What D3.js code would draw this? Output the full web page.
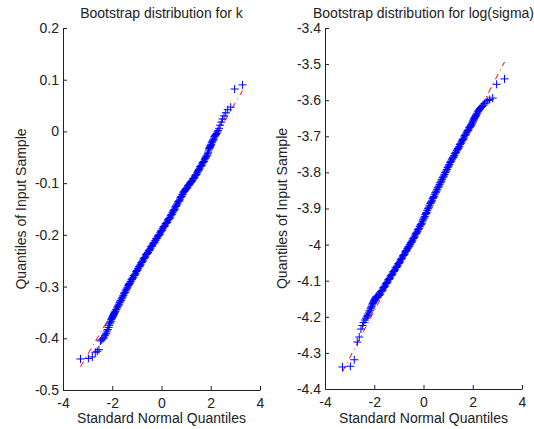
<!DOCTYPE html>
<html>
<head>
<meta charset="utf-8">
<script src="https://cdn.jsdelivr.net/npm/d3@7"></script>
<style>
  html, body { margin: 0; padding: 0; background: #ffffff; }
  svg { display: block; }
  text { font-family: "Liberation Sans", Arial, Helvetica, sans-serif; fill: #222; }
</style>
</head>
<body>
<script>
// Normal Q-Q plots of two bootstrap samples: [standard normal quantile, sample quantile]

const titles = ["Bootstrap distribution for k", "Bootstrap distribution for log(sigma)"];
const xLabel = "Standard Normal Quantiles";
const yLabel = "Quantiles of Input Sample";

const xTicks = [-4, -2, 0, 2, 4];
const kTicks = [0.2, 0.1, 0, -0.1, -0.2, -0.3, -0.4, -0.5];
const sigmaTicks = [-3.4, -3.5, -3.6, -3.7, -3.8, -3.9, -4, -4.1, -4.2, -4.3, -4.4];

// k: lower tail, body, upper tail
const kLower = [[-3.29,-0.440],[-2.97,-0.439],[-2.81,-0.436],[-2.69,-0.427],[-2.61,-0.425],[-2.54,-0.422],
  [-2.48,-0.405],[-2.43,-0.403],[-2.38,-0.401],[-2.34,-0.399],[-2.30,-0.395],[-2.27,-0.392],[-2.24,-0.390],
  [-2.21,-0.386],[-2.18,-0.383],[-2.15,-0.379],[-2.13,-0.375],[-2.11,-0.372],[-2.08,-0.369],[-2.06,-0.367],
  [-2.04,-0.364],[-2.02,-0.362],[-2.00,-0.360],[-1.98,-0.358],[-1.96,-0.356],[-1.94,-0.354],[-1.92,-0.352],[-1.90,-0.350]];
const kBody = [[-1.875,-0.348],[-1.85,-0.345],[-1.825,-0.344],[-1.80,-0.341],[-1.775,-0.338],[-1.75,-0.336],
  [-1.725,-0.334],[-1.70,-0.331],[-1.675,-0.328],[-1.65,-0.327],[-1.625,-0.324],[-1.60,-0.322],[-1.575,-0.320],
  [-1.55,-0.317],[-1.525,-0.314],[-1.50,-0.312],[-1.475,-0.311],[-1.45,-0.308],[-1.425,-0.305],[-1.40,-0.303],
  [-1.375,-0.301],[-1.35,-0.298],[-1.325,-0.296],[-1.30,-0.294],[-1.275,-0.293],[-1.25,-0.290],[-1.225,-0.287],
  [-1.20,-0.286],[-1.175,-0.284],[-1.15,-0.282],[-1.125,-0.279],[-1.10,-0.278],[-1.075,-0.277],[-1.05,-0.274],
  [-1.025,-0.271],[-1.00,-0.269],[-0.975,-0.268],[-0.95,-0.265],[-0.925,-0.262],[-0.90,-0.261],[-0.875,-0.260],
  [-0.85,-0.257],[-0.825,-0.254],[-0.80,-0.253],[-0.775,-0.252],[-0.75,-0.249],[-0.725,-0.246],[-0.70,-0.245],
  [-0.675,-0.244],[-0.65,-0.241],[-0.625,-0.238],[-0.60,-0.237],[-0.575,-0.236],[-0.55,-0.234],[-0.525,-0.231],
  [-0.50,-0.230],[-0.475,-0.229],[-0.45,-0.226],[-0.425,-0.223],[-0.40,-0.222],[-0.375,-0.221],[-0.35,-0.218],
  [-0.325,-0.216],[-0.30,-0.215],[-0.275,-0.214],[-0.25,-0.211],[-0.225,-0.208],[-0.20,-0.207],[-0.175,-0.206],
  [-0.15,-0.203],[-0.125,-0.201],[-0.10,-0.200],[-0.075,-0.199],[-0.05,-0.196],[-0.025,-0.193],[0.00,-0.192],
  [0.025,-0.191],[0.05,-0.188],[0.075,-0.185],[0.10,-0.184],[0.125,-0.183],[0.15,-0.181],[0.175,-0.178],
  [0.20,-0.177],[0.225,-0.176],[0.25,-0.173],[0.275,-0.170],[0.30,-0.169],[0.325,-0.168],[0.35,-0.166],
  [0.375,-0.163],[0.40,-0.161],[0.425,-0.160],[0.45,-0.157],[0.475,-0.154],[0.50,-0.153],[0.525,-0.151],
  [0.55,-0.148],[0.575,-0.145],[0.60,-0.144],[0.625,-0.142],[0.65,-0.139],[0.675,-0.136],[0.70,-0.135],
  [0.725,-0.134],[0.75,-0.131],[0.775,-0.128],[0.80,-0.126],[0.825,-0.125],[0.85,-0.122],[0.875,-0.119],
  [0.90,-0.117],[0.925,-0.116],[0.95,-0.114],[0.975,-0.112],[1.00,-0.111],[1.025,-0.110],[1.05,-0.108],
  [1.075,-0.105],[1.10,-0.104],[1.125,-0.103],[1.15,-0.101],[1.175,-0.099],[1.20,-0.098],[1.225,-0.097],
  [1.25,-0.095],[1.275,-0.092],[1.30,-0.091],[1.325,-0.090],[1.35,-0.088],[1.375,-0.085],[1.40,-0.084],
  [1.425,-0.083],[1.45,-0.080],[1.475,-0.077],[1.50,-0.075],[1.525,-0.074],[1.55,-0.071],[1.575,-0.068],
  [1.60,-0.067],[1.625,-0.066],[1.65,-0.063],[1.675,-0.060],[1.70,-0.059],[1.725,-0.058],[1.75,-0.055],
  [1.775,-0.052],[1.80,-0.050],[1.825,-0.048]];
const kUpper = [[1.86,-0.046],[1.88,-0.043],[1.90,-0.040],[1.92,-0.036],[1.94,-0.033],[1.96,-0.031],[1.98,-0.029],
  [2.00,-0.027],[2.02,-0.025],[2.04,-0.022],[2.06,-0.020],[2.08,-0.018],[2.11,-0.016],[2.13,-0.013],[2.15,-0.010],
  [2.18,-0.008],[2.21,-0.006],[2.24,-0.004],[2.27,-0.001],[2.30,0.002],[2.34,0.006],[2.38,0.012],[2.43,0.018],
  [2.48,0.024],[2.54,0.030],[2.61,0.036],[2.69,0.042],[2.81,0.047],[2.97,0.082],[3.29,0.090]];
const kFit = [[-3.29,-0.455],[3.29,0.079]];

// log(sigma): lower tail, body, upper tail
const sigmaLower = [[-3.29,-4.339],[-2.97,-4.337],[-2.81,-4.319],[-2.69,-4.270],[-2.61,-4.256],[-2.54,-4.234],
  [-2.48,-4.224],[-2.43,-4.216],[-2.38,-4.209],[-2.34,-4.204],[-2.30,-4.200],[-2.27,-4.196],[-2.24,-4.192],
  [-2.21,-4.187],[-2.18,-4.183],[-2.15,-4.178],[-2.13,-4.175],[-2.11,-4.171],[-2.08,-4.167],[-2.06,-4.163],
  [-2.04,-4.160],[-2.02,-4.157],[-2.00,-4.155],[-1.98,-4.152],[-1.96,-4.150],[-1.94,-4.147],[-1.92,-4.145],[-1.90,-4.143]];
const sigmaBody = [[-1.875,-4.147],[-1.85,-4.145],[-1.825,-4.141],[-1.80,-4.140],[-1.775,-4.138],[-1.75,-4.134],
  [-1.725,-4.130],[-1.70,-4.129],[-1.675,-4.127],[-1.65,-4.123],[-1.625,-4.119],[-1.60,-4.118],[-1.575,-4.116],
  [-1.55,-4.112],[-1.525,-4.108],[-1.50,-4.107],[-1.475,-4.105],[-1.45,-4.101],[-1.425,-4.097],[-1.40,-4.096],
  [-1.375,-4.094],[-1.35,-4.090],[-1.325,-4.086],[-1.30,-4.085],[-1.275,-4.083],[-1.25,-4.079],[-1.225,-4.075],
  [-1.20,-4.074],[-1.175,-4.072],[-1.15,-4.068],[-1.125,-4.064],[-1.10,-4.063],[-1.075,-4.061],[-1.05,-4.057],
  [-1.025,-4.053],[-1.00,-4.052],[-0.975,-4.050],[-0.95,-4.046],[-0.925,-4.042],[-0.90,-4.040],[-0.875,-4.038],
  [-0.85,-4.034],[-0.825,-4.030],[-0.80,-4.029],[-0.775,-4.027],[-0.75,-4.023],[-0.725,-4.019],[-0.70,-4.017],
  [-0.675,-4.015],[-0.65,-4.011],[-0.625,-4.007],[-0.60,-4.006],[-0.575,-4.004],[-0.55,-4.000],[-0.525,-3.996],
  [-0.50,-3.994],[-0.475,-3.992],[-0.45,-3.988],[-0.425,-3.984],[-0.40,-3.982],[-0.375,-3.980],[-0.35,-3.976],
  [-0.325,-3.971],[-0.30,-3.969],[-0.275,-3.967],[-0.25,-3.963],[-0.225,-3.959],[-0.20,-3.957],[-0.175,-3.955],
  [-0.15,-3.950],[-0.125,-3.946],[-0.10,-3.944],[-0.075,-3.942],[-0.05,-3.937],[-0.025,-3.932],[0.00,-3.929],
  [0.025,-3.926],[0.05,-3.922],[0.075,-3.917],[0.10,-3.914],[0.125,-3.911],[0.15,-3.906],[0.175,-3.901],
  [0.20,-3.899],[0.225,-3.896],[0.25,-3.891],[0.275,-3.886],[0.30,-3.884],[0.325,-3.881],[0.35,-3.877],
  [0.375,-3.872],[0.40,-3.870],[0.425,-3.867],[0.45,-3.862],[0.475,-3.857],[0.50,-3.855],[0.525,-3.852],
  [0.55,-3.848],[0.575,-3.843],[0.60,-3.841],[0.625,-3.838],[0.65,-3.834],[0.675,-3.829],[0.70,-3.827],
  [0.725,-3.824],[0.75,-3.820],[0.775,-3.815],[0.80,-3.813],[0.825,-3.810],[0.85,-3.806],[0.875,-3.801],
  [0.90,-3.799],[0.925,-3.796],[0.95,-3.792],[0.975,-3.787],[1.00,-3.785],[1.025,-3.782],[1.05,-3.778],
  [1.075,-3.773],[1.10,-3.771],[1.125,-3.769],[1.15,-3.765],[1.175,-3.761],[1.20,-3.759],[1.225,-3.757],
  [1.25,-3.753],[1.275,-3.748],[1.30,-3.746],[1.325,-3.744],[1.35,-3.740],[1.375,-3.736],[1.40,-3.734],
  [1.425,-3.732],[1.45,-3.728],[1.475,-3.723],[1.50,-3.721],[1.525,-3.719],[1.55,-3.715],[1.575,-3.711],
  [1.60,-3.709],[1.625,-3.707],[1.65,-3.702],[1.675,-3.698],[1.70,-3.696],[1.725,-3.694],[1.75,-3.690],
  [1.775,-3.686],[1.80,-3.684],[1.825,-3.682],[1.85,-3.677],[1.875,-3.675]];
const sigmaUpper = [[1.90,-3.673],[1.92,-3.671],[1.94,-3.668],[1.96,-3.666],[1.98,-3.663],[2.00,-3.660],
  [2.02,-3.657],[2.04,-3.654],[2.06,-3.651],[2.08,-3.648],[2.11,-3.645],[2.13,-3.642],[2.15,-3.639],
  [2.18,-3.636],[2.21,-3.632],[2.24,-3.629],[2.27,-3.626],[2.30,-3.623],[2.34,-3.620],[2.38,-3.617],
  [2.43,-3.614],[2.48,-3.609],[2.54,-3.605],[2.61,-3.601],[2.69,-3.598],[2.81,-3.594],[2.97,-3.556],[3.29,-3.541]];
const sigmaFit = [[-3.29,-4.352],[3.29,-3.494]];

const width = 534, height = 429;
const svg = d3.select("body").append("svg").attr("width", width).attr("height", height);

const panels = [
  { title: titles[0], points: kLower.concat(kBody, kUpper), fit: kFit, yTicks: kTicks,
    left: 63, right: 260, top: 28, bottom: 390, ylabX: 26 },
  { title: titles[1], points: sigmaLower.concat(sigmaBody, sigmaUpper), fit: sigmaFit, yTicks: sigmaTicks,
    left: 325, right: 522, top: 28, bottom: 389, ylabX: 287 }
];

const plus = "M-4,0H4M0,-4V4";

panels.forEach(p => {
  const x = d3.scaleLinear().domain([-4, 4]).range([p.left, p.right]);
  const y = d3.scaleLinear().domain(d3.extent(p.yTicks)).range([p.bottom, p.top]);
  const g = svg.append("g");

  // reference line through the quartiles
  g.append("path")
    .datum(p.fit)
    .attr("d", d3.line().x(d => x(d[0])).y(d => y(d[1])))
    .attr("fill", "none")
    .attr("stroke", "#ff0000")
    .attr("stroke-width", 1)
    .attr("stroke-dasharray", "6,4,1,4");

  // sample quantiles as '+' markers
  g.append("g").selectAll("path")
    .data(p.points)
    .join("path")
    .attr("transform", d => `translate(${x(d[0])},${y(d[1])})`)
    .attr("d", plus)
    .attr("fill", "none")
    .attr("stroke", "#0000ff")
    .attr("stroke-width", 1);

  // axes
  const xAxis = d3.axisBottom(x).tickValues(xTicks).tickFormat(d => String(d))
    .tickSizeInner(-4).tickSizeOuter(0).tickPadding(8);
  const yAxis = d3.axisLeft(y).tickValues(p.yTicks).tickFormat(d => String(d))
    .tickSizeInner(-4).tickSizeOuter(0).tickPadding(4);

  const gx = g.append("g").attr("transform", `translate(0,${p.bottom})`).call(xAxis);
  const gy = g.append("g").attr("transform", `translate(${p.left},0)`).call(yAxis);
  [gx, gy].forEach(a => {
    a.selectAll("path.domain, line").attr("stroke", "#222").attr("stroke-width", 1);
    a.selectAll("text").attr("font-size", 14).attr("fill", "#222")
      .attr("font-family", "'Liberation Sans', Arial, sans-serif");
  });

  // title and axis labels
  g.append("text")
    .attr("x", (p.left + p.right) / 2).attr("y", 18)
    .attr("text-anchor", "middle").attr("font-size", 14)
    .text(p.title);
  g.append("text")
    .attr("x", (p.left + p.right) / 2).attr("y", 423)
    .attr("text-anchor", "middle").attr("font-size", 14)
    .text(xLabel);
  g.append("text")
    .attr("transform", `translate(${p.ylabX},${(p.top + p.bottom) / 2}) rotate(-90)`)
    .attr("text-anchor", "middle").attr("font-size", 14)
    .text(yLabel);
});
</script>
</body>
</html>
